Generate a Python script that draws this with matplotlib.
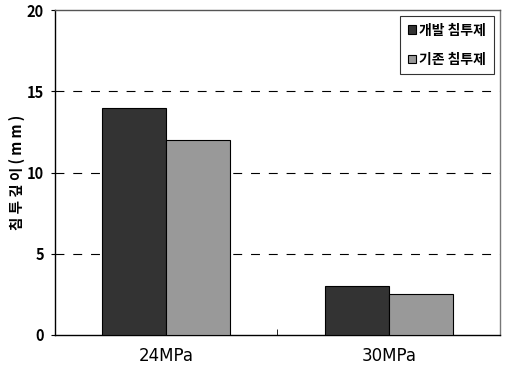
import matplotlib.pyplot as plt
import numpy as np

plt.rcParams['font.family'] = ['Noto Sans CJK KR', 'DejaVu Sans']

categories = ['24MPa', '30MPa']
series_names = ['개발 침투제', '기존 침투제']
new_agent = [14, 3]
old_agent = [12, 2.5]
colors = ['#333333', '#999999']

fig = plt.figure(figsize=(5.05, 3.75), dpi=100)
ax = fig.add_axes([0.109, 0.107, 0.881, 0.866])

x = np.arange(len(categories))
w = 0.288
ax.bar(x - w / 2, new_agent, w, color=colors[0], edgecolor='black', linewidth=0.8,
       label=series_names[0], zorder=3)
ax.bar(x + w / 2, old_agent, w, color=colors[1], edgecolor='black', linewidth=0.8,
       label=series_names[1], zorder=3)

ax.set_xlim(-0.5, 1.5)
ax.set_ylim(0, 20)
ax.set_yticks([0, 5, 10, 15, 20])
ax.set_xticks(x)
ax.set_xticklabels(categories, fontsize=12, family='DejaVu Sans')
ax.set_xticks([0.5], minor=True)
ax.tick_params(axis='x', which='major', length=0, pad=9)
ax.tick_params(axis='x', which='minor', direction='in', length=4)
ax.tick_params(axis='y', direction='out', length=3, labelsize=10.5, pad=5)
for tl in ax.get_yticklabels():
  tl.set_fontweight('bold')

for yv in [5, 10, 15]:
  ax.axhline(yv, color='black', linestyle=(0, (8, 8)), linewidth=0.8, zorder=1)

for s in ax.spines.values():
  s.set_linewidth(1.0)
ax.spines['top'].set_color('#555555')
ax.spines['right'].set_color('#777777')

ax.set_ylabel('침 투 깊 이 ( m m )', fontsize=10.5, fontweight='bold', labelpad=1)

leg = ax.legend(loc='upper right', fontsize=10, frameon=True, fancybox=False,
                edgecolor='black', handlelength=0.6, handleheight=0.6,
                handletextpad=0.2, labelspacing=1.1, borderpad=0.55,
                borderaxespad=0.3, bbox_to_anchor=(0.995, 0.995))
leg.get_frame().set_linewidth(0.8)
for t in leg.get_texts():
  t.set_fontweight('bold')

fig.savefig('out.png', dpi=100)
